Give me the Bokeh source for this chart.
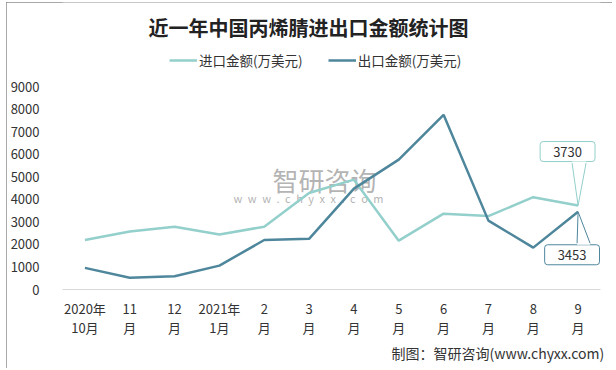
from bokeh.plotting import figure
from bokeh.models import Label, Legend, LegendItem, FixedTicker, Range1d, Title
from bokeh.embed import file_html
from bokeh.resources import INLINE
from bokeh.core.properties import value

# ---- data ----
months = ["2020年\n10月", "11\n月", "12\n月", "2021年\n1月", "2\n月", "3\n月",
          "4\n月", "5\n月", "6\n月", "7\n月", "8\n月", "9\n月"]
import_vals = [2200, 2580, 2790, 2440, 2790, 4290, 4880, 2170, 3370, 3260, 4100, 3730]
export_vals = [960, 520, 590, 1060, 2200, 2250, 4480, 5770, 7760, 3060, 1860, 3453]
y_ticks = [0, 1000, 2000, 3000, 4000, 5000, 6000, 7000, 8000, 9000]
series_names = ["进口金额(万美元)", "出口金额(万美元)"]
title_text = "近一年中国丙烯腈进出口金额统计图"
source_text = "制图：智研咨询(www.chyxx.com)"

C_IMP = "#93cfcb"
C_EXP = "#4e869c"
FONT = "Noto Sans CJK SC"
TXT = "#333333"

# ---- layout (pixels) ----
W, H = 606, 366
L, R, T, B = 56, 12, 0, 79
VAL_PX = 202.6                      # pixel height of 0..9000
xs = list(range(len(months)))
x0, x1 = -0.5, len(months) - 0.5
frame_w = W - L - R
frame_h = H - T - B
PX_X = (x1 - x0) / frame_w          # data units per pixel
PX_Y = 9000 / VAL_PX
y0, y1 = 0, frame_h * PX_Y

def dx(px):   # canvas x pixel -> data x
    return x0 + (px - L) * PX_X

def dy(py):   # canvas y pixel -> data y
    return (T + frame_h - py) * PX_Y

p = figure(width=W, height=H, x_range=Range1d(x0, x1), y_range=Range1d(y0, y1),
           output_backend="svg", toolbar_location=None, title=None,
           min_border_left=L, min_border_right=R, min_border_top=T, min_border_bottom=B)
p.styles = {"margin-left": "6px", "margin-top": "2px",
            "outline": "1px solid #8c8c8c", "outline-offset": "-1px"}
p.outline_line_color = None
p.background_fill_color = "white"
p.border_fill_color = "white"
p.xgrid.visible = False
p.ygrid.visible = False

# axes
p.xaxis.ticker = FixedTicker(ticks=xs)
p.xaxis.major_label_overrides = {i: m for i, m in zip(xs, months)}
p.xaxis.axis_line_color = "#d9d9d9"
p.xaxis.major_tick_line_color = None
p.xaxis.minor_tick_line_color = None
p.xaxis.major_label_text_font = FONT
p.xaxis.major_label_text_font_size = "13px"
p.xaxis.major_label_text_color = TXT
p.xaxis.major_label_text_line_height = 1.05
p.xaxis.major_label_standoff = 3

p.yaxis.ticker = FixedTicker(ticks=y_ticks)
p.yaxis.axis_line_color = None
p.yaxis.major_tick_line_color = None
p.yaxis.minor_tick_line_color = None
p.yaxis.major_label_text_font = FONT
p.yaxis.major_label_text_font_size = "13px"
p.yaxis.major_label_text_color = TXT
p.yaxis.major_label_standoff = 17

# title (inside the extended frame area)
p.text(x=[dx(142)], y=[dy(24.5)], text=[title_text], text_font=value(FONT),
       text_font_size="20px", text_font_style="bold", text_color="#222222",
       text_align="left", text_baseline="middle")

# watermark
p.text(x=[dx(318)], y=[dy(177)], text=["智研咨询"], text_font=value(FONT), text_font_size="26px",
       text_color="#a0a0a0", text_alpha=0.8, text_align="center", text_baseline="middle")
p.text(x=[dx(302)], y=[dy(195.5)],
       text=["w\u2002w\u2002w\u2002.\u2002c\u2002h\u2002y\u2002x\u2002x\u2002.\u2002c\u2002o\u2002m"],
       text_font=value(FONT), text_font_size="11px",
       text_color="#a0a0a0", text_alpha=0.8, text_align="center", text_baseline="middle")

# series
r_imp = p.line(xs, import_vals, line_color=C_IMP, line_width=2.5)
r_exp = p.line(xs, export_vals, line_color=C_EXP, line_width=2.5)

legend = Legend(items=[LegendItem(label=series_names[0], renderers=[r_imp]),
                       LegendItem(label=series_names[1], renderers=[r_exp])],
                orientation="horizontal", location=(107, frame_h - 67.5),
                glyph_width=28, glyph_height=16, label_standoff=2, spacing=25,
                padding=0, margin=0, border_line_color=None, background_fill_alpha=0,
                label_text_font=FONT, label_text_font_size="13.5px", label_text_color=TXT)
p.add_layout(legend, "center")

# source note
p.add_layout(Title(text=source_text, align="left", offset=329, standoff=0,
                   text_font=FONT, text_font_size="14px", text_font_style="normal",
                   text_color=TXT, text_line_height=0.9), "below")

# callouts for last values
last = len(xs) - 1
def callout(yv, color, box_dx, box_dy, base_l, base_r, base_dy):
    p.add_layout(Label(x=xs[last], y=yv, x_offset=box_dx, y_offset=box_dy, text=str(yv),
                       text_align="center", text_baseline="middle", text_font=FONT,
                       text_font_size="13px", text_color=TXT, padding=(13, 5),
                       border_radius=3, background_fill_color="white",
                       border_line_color=color, border_line_width=1))
    tx, ty = xs[last], yv
    bl = (tx + base_l * PX_X, ty + base_dy * PX_Y)
    br = (tx + base_r * PX_X, ty + base_dy * PX_Y)
    ext = 1.5 if base_dy > 0 else -1.5
    p.patch([tx, bl[0], bl[0], br[0], br[0]],
            [ty, bl[1], bl[1] + ext * PX_Y, br[1] + ext * PX_Y, br[1]],
            fill_color="white", line_color=None, level="overlay")
    p.line([bl[0], tx, br[0]], [bl[1], ty, br[1]], line_color=color, line_width=1, level="overlay")

callout(import_vals[last], C_IMP, -10.5, 54, -6, 8, 42.5)
callout(export_vals[last], C_EXP, -6, -43, -1, 12, -31.5)

open("out.html", "w").write(file_html(p, INLINE))
